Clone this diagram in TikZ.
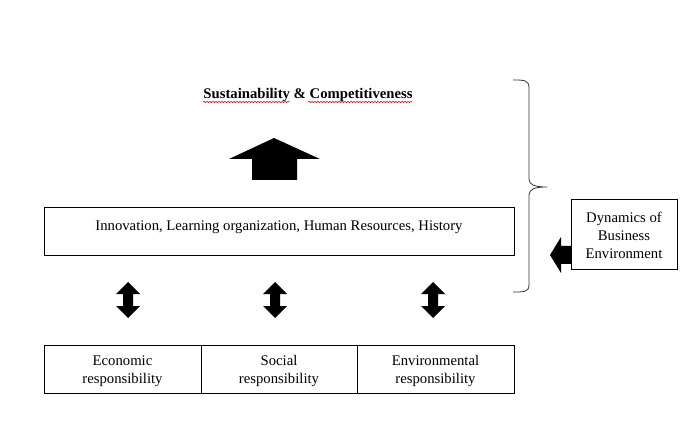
\documentclass[tikz,border=0pt]{standalone}
\usepackage{fontspec}
\setmainfont{Liberation Serif}
\usetikzlibrary{decorations.pathmorphing}
\begin{document}
\begin{tikzpicture}[x=1pt,y=-1pt,
  txt/.style={font=\fontsize{14.7}{18}\selectfont, align=center, inner sep=0pt},
  box/.style={draw=black, line width=0.8pt},
  wavy/.style={red, line width=0.5pt, decorate, decoration={snake, segment length=3pt, amplitude=0.8pt}}]
\useasboundingbox (0,0) rectangle (697,425);
% title
\node[txt, font=\fontsize{14.7}{18}\selectfont\bfseries] (title) at (308,94.5) {Sustainability \& Competitiveness};
\draw[wavy] (203,102) -- (290,102);
\draw[wavy] (308,102) -- (412,102);
% up arrow
\fill[black] (252,180) -- (252,159) -- (229,159) -- (274,138) -- (320,159) -- (297,159) -- (297,180) -- cycle;
% main box
\draw[box] (44,207) rectangle (514,255);
\node[txt] (main) at (279,227) {Innovation, Learning organization, Human Resources, History};
% double arrows
\foreach \c in {128,275,433}{
  \fill[black] (\c,282) -- (\c+12,294) -- (\c+5,294) -- (\c+5,306) -- (\c+12,306) -- (\c,318)
    -- (\c-12,306) -- (\c-5,306) -- (\c-5,294) -- (\c-12,294) -- cycle;
}
% bottom boxes
\draw[box] (44,345) rectangle (201,393);
\draw[box] (201,345) rectangle (357,393);
\draw[box] (357,345) rectangle (514,393);
\node[txt] (eco) at (122.5,371) {Economic\\responsibility};
\node[txt] (soc) at (279,371) {Social\\responsibility};
\node[txt] (env) at (435.5,371) {Environmental\\responsibility};
% brace
\draw[line width=0.8pt, black!80] (513,80) .. controls (524,80) and (529,80) .. (529,88)
  -- (529,179) .. controls (529,185) and (535,187) .. (547,187)
  .. controls (535,187) and (529,189) .. (529,195)
  -- (529,285) .. controls (529,292) and (524,292) .. (513,292);
% dynamics box
\draw[box] (571,199) rectangle (677,269);
\node[txt] (dyn) at (624,235) {Dynamics of\\Business\\Environment};
% left arrow
\fill[black] (571,246) -- (561,246) -- (561,237) -- (550,255) -- (561,273) -- (561,264) -- (571,264) -- cycle;
\end{tikzpicture}
\end{document}
